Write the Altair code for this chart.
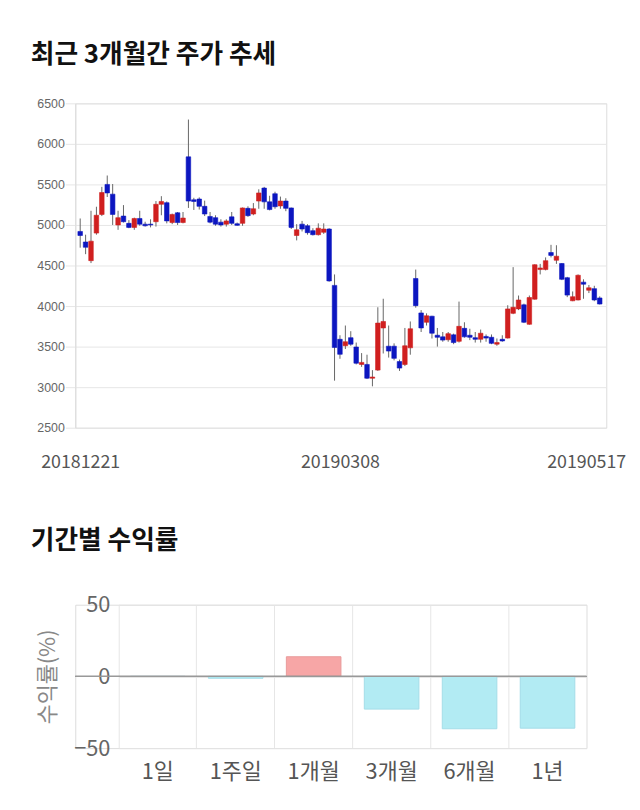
import altair as alt
import pandas as pd

# ---- candlestick data (daily, 97 trading days) ----
dates = ["20181221", "20190308", "20190517"]
opens = [4920, 4790, 4560, 4900, 5130, 5500, 5380, 5000, 5110, 5020,
         4970, 5080, 5010, 5010, 5040, 5255, 5275, 5030, 5150, 5030,
         5840, 5310, 5320, 5230, 5105, 5090, 5035, 5010, 5100, 5015,
         5020, 5205, 5135, 5295, 5455, 5285, 5385, 5235, 5295, 5210,
         4870, 5010, 4990, 4930, 4880, 4910, 4950, 4255, 3590, 3510,
         3610, 3495, 3280, 3280, 3110, 3210, 3730, 3505, 3505, 3315,
         3280, 3485, 4340, 3915, 3800, 3875, 3640, 3620, 3585, 3645,
         3565, 3725, 3640, 3610, 3590, 3625, 3615, 3530, 3590, 3605,
         3910, 3965, 4015, 3775, 4085, 4450, 4450, 4660, 4565, 4525,
         4350, 4065, 4075, 4295, 4195, 4215, 4100]
closes = [4870, 4725, 4800, 5120, 5400, 5395, 5130, 5090, 5040, 4970,
          5080, 5010, 4990, 5000, 5255, 5290, 5050, 5130, 5030, 5085,
          5295, 5290, 5230, 5135, 5035, 5010, 5000, 5050, 5020, 4995,
          5210, 5115, 5200, 5395, 5285, 5190, 5225, 5295, 5205, 4970,
          4940, 4950, 4905, 4880, 4960, 4950, 4310, 3490, 3405, 3560,
          3530, 3295, 3305, 3110, 3125, 3790, 3810, 3445, 3355, 3235,
          3510, 3720, 4005, 3730, 3880, 3665, 3615, 3580, 3660, 3550,
          3750, 3620, 3615, 3590, 3665, 3605, 3540, 3550, 3570, 3965,
          3985, 4075, 3800, 4105, 4510, 4470, 4560, 4625, 4615, 4330,
          4135, 4115, 4380, 4270, 4225, 4075, 4025]
highs = [5080, 4880, 5175, 5225, 5470, 5610, 5505, 5175, 5245, 5060,
         5090, 5175, 5040, 5070, 5295, 5355, 5290, 5140, 5160, 5160,
         6300, 5335, 5340, 5300, 5160, 5120, 5070, 5070, 5160, 5030,
         5215, 5230, 5270, 5440, 5470, 5360, 5410, 5350, 5330, 5215,
         5010, 5050, 5010, 4960, 5020, 5020, 4960, 4390, 3640, 3760,
         3690, 3550, 3420, 3400, 3210, 3985, 4090, 3760, 3540, 3340,
         3730, 3810, 4450, 3950, 3910, 3880, 3730, 3680, 3680, 3660,
         4055, 3800, 3720, 3680, 3710, 3650, 3650, 3600, 3640, 4010,
         4480, 4130, 4030, 4130, 4515, 4520, 4600, 4755, 4750, 4530,
         4360, 4180, 4390, 4330, 4260, 4250, 4120]
lows = [4720, 4640, 4530, 4880, 5110, 5345, 5000, 4940, 5030, 4960,
        4940, 4990, 4980, 4970, 4980, 5120, 5020, 5010, 5000, 5020,
        5210, 5185, 5190, 5110, 5020, 4990, 4980, 4980, 5000, 4990,
        4990, 5100, 5120, 5200, 5200, 5180, 5200, 5200, 5170, 4950,
        4810, 4920, 4880, 4870, 4870, 4890, 4300, 3080, 3350, 3470,
        3510, 3280, 3250, 3100, 3010, 3200, 3415, 3365, 3330, 3200,
        3260, 3400, 3980, 3680, 3760, 3600, 3500, 3560, 3560, 3530,
        3550, 3610, 3580, 3550, 3550, 3560, 3530, 3510, 3560, 3600,
        3900, 3950, 3790, 3770, 4080, 4390, 4440, 4600, 4520, 4320,
        4110, 4060, 4070, 4090, 4160, 4060, 4020]

# ---- period returns ----
periods = ["1일", "1주일", "1개월", "3개월", "6개월", "1년"]
returns = [0.0, -1.3, 13.7, -22.8, -36.5, -36.1]

RED = "#d01f1f"
BLUE = "#0c16c0"
KR = "Noto Sans CJK KR"

n = len(opens)
cdf = pd.DataFrame({
    "idx": list(range(n)),
    "open": opens, "close": closes, "high": highs, "low": lows,
})
cdf["dir"] = ["up" if c >= o else "down" for o, c in zip(opens, closes)]

label_expr = (f"datum.value < 20 ? '{dates[0]}' : "
              f"datum.value < 70 ? '{dates[1]}' : '{dates[2]}'")

xsc = alt.Scale(domain=[0, 96.3], nice=False, zero=False)
ysc = alt.Scale(domain=[2500, 6500], nice=False, zero=False)

xaxis = alt.Axis(values=[0, 48, 93.5], labelExpr=label_expr, grid=False,
                 ticks=False, domain=False, labelFontSize=18, labelColor="#555",
                 labelFont=KR, labelPadding=26, title=None, labelBound=False)
yaxis = alt.Axis(values=list(range(2500, 6501, 500)), format="d", labelFontSize=12.5,
                 labelColor="#666", labelFont="Liberation Sans",
                 tickSize=10, tickColor="#e6e6e6", domainColor="#dddddd",
                 gridColor="#e6e6e6", labelPadding=1, title=None)

base = alt.Chart(cdf).encode(x=alt.X("idx:Q", scale=xsc, axis=xaxis))
wick = base.mark_rule(color="#666666", strokeWidth=1, clip=True).encode(
    y=alt.Y("low:Q", scale=ysc, axis=yaxis), y2="high:Q")
body = base.mark_bar(size=4.6, strokeWidth=0.6, clip=True).encode(
    y=alt.Y("open:Q", scale=ysc), y2="close:Q",
    color=alt.Color("dir:N", scale=alt.Scale(domain=["up", "down"], range=[RED, BLUE]), legend=None),
    stroke=alt.Stroke("dir:N", scale=alt.Scale(domain=["up", "down"], range=[RED, BLUE]), legend=None),
)
top = alt.layer(wick, body).properties(
    width=537, height=328,
    title=alt.TitleParams("최근 3개월간 주가 추세", anchor="start", frame="group",
                          font=KR, fontSize=26, fontWeight="bold", color="#111",
                          offset=30, dx=-45),
)

# ---- bottom chart ----
bdf = pd.DataFrame({"period": periods, "ret": returns})
bdf["sign"] = ["pos" if r > 0 else "neg" for r in returns]

bx = alt.X("period:N", sort=periods,
           scale=alt.Scale(range=[44, 517], paddingInner=0, paddingOuter=0),
           axis=alt.Axis(title=None, labelAngle=0, labelFontSize=22, labelColor="#555",
                         labelFont=KR, grid=True, gridColor="#e6e6e6", bandPosition=0,
                         ticks=False, domain=False, labelPadding=14))
by = alt.Y("ret:Q", scale=alt.Scale(domain=[-50, 50], nice=False),
           axis=alt.Axis(values=[-50, 0, 50], title="수익률(%)", offset=-44,
                         labelFontSize=22, labelColor="#666", labelFont=KR,
                         titleFont=KR, titleFontSize=22, titleColor="#888",
                         titleFontWeight="normal", titlePadding=14,
                         gridColor="#e3e3e3", ticks=False, domain=False, labelPadding=9))
bars = alt.Chart(bdf).mark_bar(width=alt.RelativeBandSize(0.7), strokeWidth=1).encode(
    x=bx, y=by,
    color=alt.Color("sign:N", scale=alt.Scale(domain=["pos", "neg"], range=["#f7a6a6", "#b2ebf3"]), legend=None),
    stroke=alt.Stroke("sign:N", scale=alt.Scale(domain=["pos", "neg"], range=["#e89a9a", "#a3dde8"]), legend=None),
)
zero = alt.Chart(bdf).mark_rule(color="#999999", strokeWidth=1).encode(y=alt.datum(0))
bottom = alt.layer(bars, zero).properties(
    width=517, height=145,
    title=alt.TitleParams("기간별 수익률", anchor="start", frame="group",
                          font=KR, fontSize=26, fontWeight="bold", color="#111",
                          offset=40, dx=-45),
)

chart = alt.vconcat(top, bottom, spacing=56).resolve_scale(
    color="independent", stroke="independent"
).properties(
    padding={"left": 22, "top": 29, "right": 5, "bottom": 5}
).configure_view(stroke=None).configure(background="white")

chart.save("out.html", embed_options={"renderer": "svg", "actions": False})
